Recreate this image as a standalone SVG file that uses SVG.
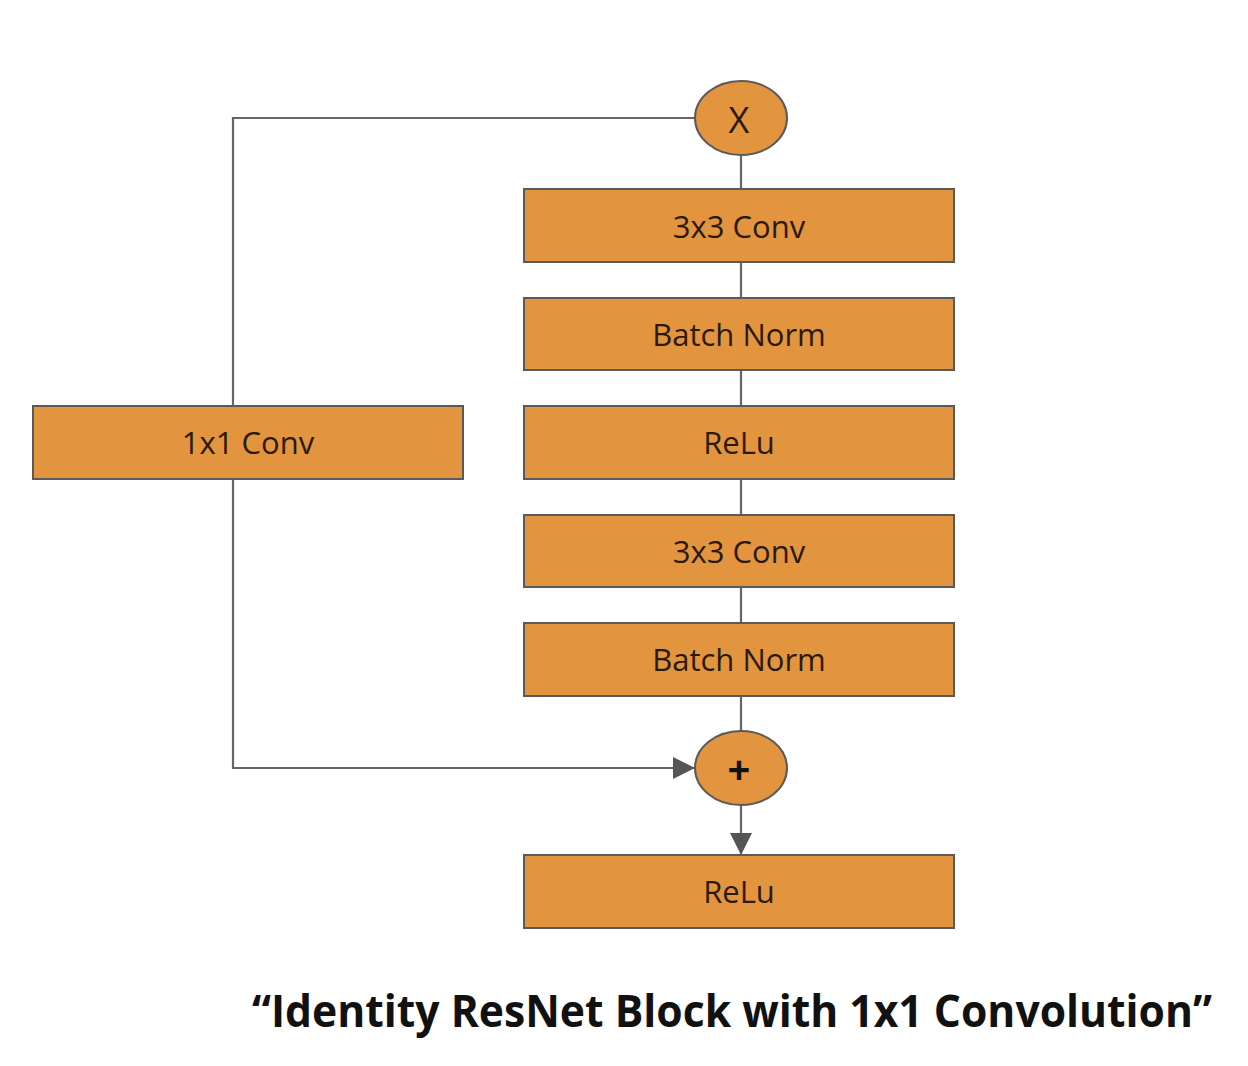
<svg xmlns="http://www.w3.org/2000/svg" width="1248" height="1066" viewBox="0 0 1248 1066">
<defs>
<style>
.box{fill:#E3943F;stroke:#5a5a5a;stroke-width:2}
.lbl{font-family:"Open Sans","Liberation Sans",sans-serif;font-size:31px;fill:#2a1a0a;text-anchor:middle;dominant-baseline:central}
.edge{fill:none;stroke:#666;stroke-width:2.2}
.title{font-family:"Open Sans","Liberation Sans",sans-serif;font-size:44px;font-weight:bold;fill:#111}
</style>
<marker id="arrow" viewBox="0 0 10 10" refX="10" refY="5" markerWidth="22" markerHeight="22" markerUnits="userSpaceOnUse" orient="auto">
<path d="M0,0 L10,5 L0,10 Z" fill="#555"/>
</marker>
</defs>
<rect width="1248" height="1066" fill="#fff"/>
<g id="connectors">
<path class="edge" d="M741,155 V189 M741,262 V298 M741,370 V406 M741,479 V515 M741,587 V623 M741,696 V731"/>
<path class="edge" d="M695,118 H233 V406"/>
<path class="edge" d="M233,479 V768 H695" marker-end="url(#arrow)"/>
<path class="edge" d="M741,805 V855" marker-end="url(#arrow)"/>
</g>
<g id="mult"><ellipse class="box" cx="741" cy="118" rx="46" ry="37"/><text class="lbl" x="739" y="119" style="font-size:36px">X</text></g>
<g id="conv1"><rect class="box" x="524" y="189" width="430" height="73"/><text class="lbl" x="739" y="226">3x3 Conv</text></g>
<g id="bn1"><rect class="box" x="524" y="298" width="430" height="72"/><text class="lbl" x="739" y="334">Batch Norm</text></g>
<g id="relu1"><rect class="box" x="524" y="406" width="430" height="73"/><text class="lbl" x="739" y="442">ReLu</text></g>
<g id="conv2"><rect class="box" x="524" y="515" width="430" height="72"/><text class="lbl" x="739" y="551">3x3 Conv</text></g>
<g id="bn2"><rect class="box" x="524" y="623" width="430" height="73"/><text class="lbl" x="739" y="659">Batch Norm</text></g>
<g id="conv1x1"><rect class="box" x="33" y="406" width="430" height="73"/><text class="lbl" x="248" y="442">1x1 Conv</text></g>
<g id="add"><ellipse class="box" cx="741" cy="768" rx="46" ry="37"/><text class="lbl" x="739" y="768" style="font-size:40px;font-weight:bold;fill:#111">+</text></g>
<g id="relu2"><rect class="box" x="524" y="855" width="430" height="73"/><text class="lbl" x="739" y="891">ReLu</text></g>
<text class="title" x="252" y="1027" textLength="960" lengthAdjust="spacingAndGlyphs">“Identity ResNet Block with 1x1 Convolution”</text>
</svg>
